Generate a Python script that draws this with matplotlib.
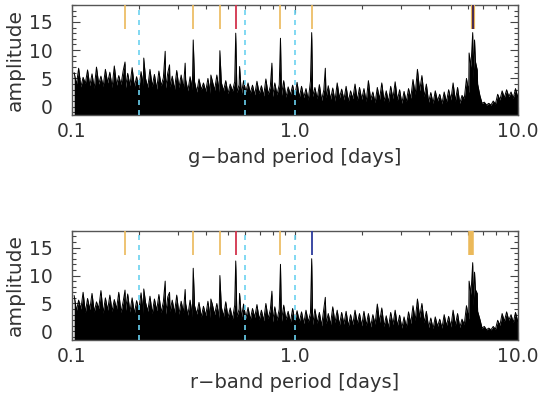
import numpy as np
import matplotlib
matplotlib.use("Agg")
import matplotlib.pyplot as plt
from matplotlib.ticker import FixedLocator, LogLocator, MultipleLocator, NullFormatter

# ---------------- data ----------------
# noise of the periodogram, sampled on a log-period grid
noise_log_start = -0.99
noise_log_step = 0.02

g_noise_hi = [6.0, 6.8, 5.2, 6.5, 5.8, 7.0, 5.4, 6.6, 6.1, 7.2, 5.5, 6.4, 5.9, 6.9, 5.3, 6.2, 5.0, 6.6, 5.7, 6.3,
              5.1, 6.0, 5.4, 6.4, 5.6,
              4.8, 5.3, 4.4, 4.9, 4.2, 5.0, 4.5, 5.6, 4.3, 4.6, 4.0, 4.4, 3.9, 4.6, 4.2, 3.8,
              4.5, 3.7, 4.9, 3.6, 4.2, 3.9, 4.6, 3.5, 3.8, 4.3,
              3.6, 3.2, 4.5, 3.4, 3.9, 3.0, 3.7, 3.3, 4.2, 3.1, 3.6, 2.8, 4.0, 3.4,
              3.2, 4.6, 2.6, 3.4, 4.2, 2.8, 3.6, 4.4, 3.0, 2.7, 3.2, 4.8, 6.6, 5.5, 4.0, 2.5,
              2.8, 2.2, 2.6, 3.0, 4.2, 3.4, 2.0, 5.0,
              7.0, 8.0, 2.0, 0.8,
              0.6, 1.0, 2.2, 2.8,
              3.0, 2.6, 3.2]
g_noise_lo = [3.9, 3.5, 4.1, 3.7, 3.3, 4.0, 3.6, 4.2, 3.4, 3.8, 3.9, 3.3, 3.7, 3.5, 3.2, 3.8, 3.4, 3.6, 3.1, 3.7,
              3.3, 3.5, 3.0, 3.4, 3.2,
              2.8, 3.1, 2.6, 3.0, 2.7, 2.4, 2.9, 2.6, 2.8, 2.3, 2.7, 2.5, 2.2, 2.6, 2.4, 2.1,
              2.3, 1.9, 2.2, 1.8, 2.1, 2.0, 1.7, 2.1, 1.9, 1.6,
              1.6, 1.2, 1.8, 1.4, 1.1, 1.6, 1.3, 1.0, 1.5, 1.2, 0.9, 1.4, 1.1, 1.3,
              0.9, 1.2, 0.7, 1.3, 1.0, 0.8, 1.4, 1.1, 0.6, 0.9, 1.5, 2.2, 2.8, 1.8, 0.8, 0.6,
              1.0, 0.5, 0.8, 1.2, 1.0, 0.6, 1.4, 2.5,
              5.0, 4.0, 0.6, 0.3,
              0.3, 0.5, 1.2, 1.6,
              1.8, 1.5, 1.7]

r_noise_hi = [6.4, 5.6, 7.0, 5.9, 6.8, 5.3, 7.3, 6.0, 6.5, 5.7, 7.0, 5.4, 6.7, 6.0, 5.5, 6.9, 5.2, 6.3, 5.8, 6.6,
              5.3, 6.2, 5.6, 6.5, 5.4,
              5.0, 5.6, 4.6, 5.2, 4.5, 5.4, 4.8, 5.0, 4.4, 5.3, 4.2, 4.7, 4.0, 4.9, 4.3, 4.1,
              4.8, 3.8, 5.0, 3.9, 4.4, 4.0, 4.7, 3.6, 4.1, 3.7,
              3.5, 3.8, 3.3, 4.0, 3.4, 4.0, 3.2, 4.4, 3.8, 3.4, 3.6, 3.0, 3.8, 3.2,
              3.6, 3.2, 3.0, 4.9, 4.2, 2.8, 3.4, 3.8, 2.9, 2.6, 3.5, 4.6, 5.8, 5.0, 3.6, 2.4,
              2.6, 2.2, 3.0, 2.7, 3.8, 3.2, 2.2, 4.6,
              6.6, 7.5, 2.2, 0.9,
              0.6, 0.9, 2.0, 3.2,
              3.5, 3.0, 3.4]
r_noise_lo = [3.7, 4.0, 3.4, 3.9, 3.5, 4.1, 3.3, 3.8, 3.6, 4.0, 3.4, 3.7, 3.5, 3.2, 3.9, 3.3, 3.6, 3.2, 3.7, 3.4,
              3.1, 3.6, 3.3, 3.1, 3.4,
              2.9, 2.7, 3.1, 2.6, 2.8, 2.5, 3.0, 2.4, 2.7, 2.5, 2.2, 2.6, 2.4, 2.3, 2.1, 2.5,
              2.1, 1.9, 2.3, 1.7, 2.0, 1.8, 2.1, 1.6, 1.9, 1.7,
              1.4, 1.7, 1.2, 1.5, 1.0, 1.4, 1.2, 1.6, 1.1, 1.3, 0.9, 1.2, 1.4, 1.0,
              1.1, 0.8, 1.3, 1.6, 0.9, 0.7, 1.2, 1.0, 0.6, 0.8, 1.4, 2.0, 2.5, 1.6, 0.7, 0.5,
              0.9, 0.6, 1.0, 0.8, 1.1, 0.7, 1.2, 2.2,
              4.6, 3.6, 0.6, 0.3,
              0.3, 0.4, 1.1, 1.8,
              2.0, 1.6, 1.8]

# strongest individual peaks
g_spike_period = [0.173, 0.21, 0.262, 0.274, 0.322, 0.35, 0.42, 0.461, 0.543, 0.565, 0.789, 0.862, 1.19, 1.37,
                  6.05, 6.28, 6.4, 6.58]
g_spike_amp = [7.9, 8.6, 9.8, 7.4, 7.7, 11.8, 5.6, 9.9, 13.0, 7.1, 7.7, 12.1, 13.1, 6.8,
               9.5, 13.1, 11.8, 6.5]
r_spike_period = [0.173, 0.21, 0.262, 0.274, 0.322, 0.35, 0.42, 0.461, 0.543, 0.565, 0.789, 0.862, 1.19, 1.37,
                  6.05, 6.28, 6.4, 6.58]
r_spike_amp = [7.4, 7.6, 9.0, 7.0, 7.5, 11.3, 5.8, 10.0, 12.6, 6.8, 7.2, 12.0, 13.0, 6.1,
               9.0, 12.3, 10.6, 6.8]

# reference periods
alias_periods = [0.2, 0.6, 1.0]
g_orange_marks = [0.173, 0.35, 0.461, 0.862, 1.19]
g_red_marks = [0.543]
g_dark_marks = [6.28]
r_orange_marks = [0.173, 0.35, 0.461, 0.862]
r_red_marks = [0.543]
r_blue_marks = [1.19]
r_wide_marks = [6.2]

x_tick_values = [0.1, 1.0, 10.0]
x_tick_labels = ["0.1", "1.0", "10.0"]
y_tick_values = [0, 5, 10, 15]
band_labels = ["g\u2212band period [days]", "r\u2212band period [days]"]

# ---------------- styling ----------------
YMIN, YMAX = -1.5, 18.0
MARK_LO = 13.7
ORANGE = "#ebb95a"
RED = "#d2334c"
DARK = "#4c2c50"
BLUE = "#2c3a9c"
CYAN = "#6cd2f0"
TXT = "#333333"

plt.rcParams["font.family"] = ["DejaVu Sans"]

fig = plt.figure(figsize=(5.41, 4.07), dpi=100)
ax_g = fig.add_axes([0.133, 0.717, 0.824, 0.271])
ax_r = fig.add_axes([0.133, 0.165, 0.824, 0.268])


def grid_periods(n, offset):
    return 10 ** (noise_log_start + noise_log_step * (np.arange(n) + offset))


def draw(ax, hi, lo, sp, sa, xlabel, marks):
    hi = np.asarray(hi, float)
    lo = np.asarray(lo, float)
    p = np.concatenate([grid_periods(len(hi), 0.0), grid_periods(len(lo), 0.5), np.asarray(sp, float)])
    a = np.concatenate([hi, lo, np.asarray(sa, float)])
    o = np.argsort(p)
    p, a = p[o], a[o]
    ax.fill_between(p, YMIN, a, color="black", lw=0, zorder=2)
    ax.plot(p, a, color="black", lw=0.7, zorder=3)
    for ap in alias_periods:
        ax.axvline(ap, color=CYAN, lw=1.2, ls=(0, (3, 3)), zorder=4)
    for per, col, lw in marks:
        ax.vlines(per, MARK_LO, YMAX, color=col, lw=lw, zorder=5)
    ax.set_xscale("log")
    ax.set_xlim(0.1, 10.0)
    ax.set_ylim(YMIN, YMAX)
    ax.xaxis.set_major_locator(FixedLocator(x_tick_values))
    ax.set_xticklabels(x_tick_labels)
    ax.xaxis.set_minor_locator(LogLocator(base=10, subs=np.arange(2, 10)))
    ax.xaxis.set_minor_formatter(NullFormatter())
    ax.yaxis.set_major_locator(FixedLocator(y_tick_values))
    ax.yaxis.set_minor_locator(MultipleLocator(1))
    ax.tick_params(which="both", direction="in", top=True, right=True, colors="#444444",
                   labelcolor=TXT, labelsize=13.5, width=0.8)
    ax.tick_params(which="major", length=6)
    ax.tick_params(which="minor", length=3)
    ax.tick_params(axis="x", pad=5)
    ax.tick_params(axis="y", pad=14)
    for s in ax.spines.values():
        s.set_color("#555555")
        s.set_linewidth(1.0)
    ax.set_xlabel(xlabel, fontsize=14, color=TXT, labelpad=5)
    ax.set_ylabel("amplitude", fontsize=14.5, color=TXT, labelpad=3)


draw(ax_g, g_noise_hi, g_noise_lo, g_spike_period, g_spike_amp, band_labels[0],
     [(g_orange_marks, ORANGE, 1.2), (g_red_marks, RED, 1.3), (g_dark_marks, ORANGE, 3.0), (g_dark_marks, DARK, 1.5)])
draw(ax_r, r_noise_hi, r_noise_lo, r_spike_period, r_spike_amp, band_labels[1],
     [(r_orange_marks, ORANGE, 1.2), (r_red_marks, RED, 1.3), (r_blue_marks, BLUE, 1.3), (r_wide_marks, ORANGE, 4.0)])

fig.savefig("out.png", dpi=100)
